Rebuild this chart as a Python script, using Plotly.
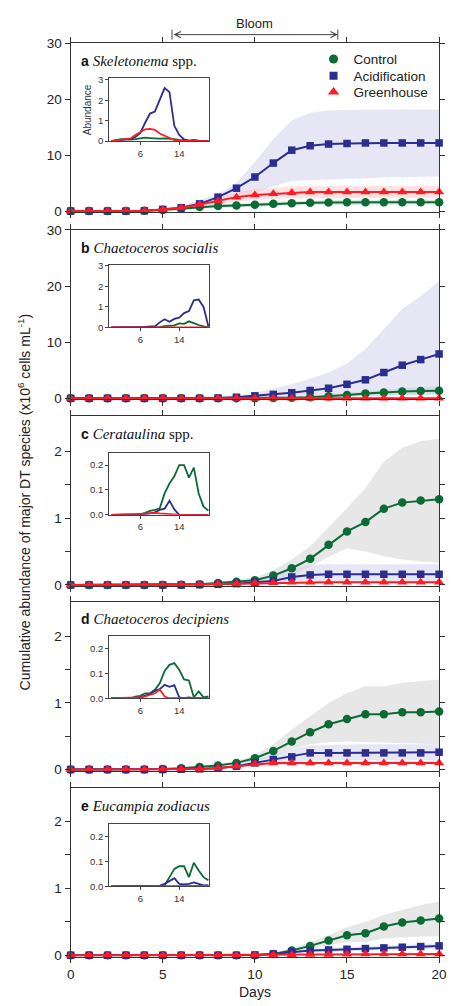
import plotly.graph_objects as go

W, H = 451, 1006
def fx(px): return px / W
def fy(px): return 1 - px / H

days = list(range(21))

# ---------- main panels: cumulative abundance ----------
# a Skeletonema
ctrl_a = [0,0,0,0,0.05,0.2,0.45,0.75,0.9,1.0,1.15,1.3,1.4,1.5,1.55,1.6,1.6,1.6,1.6,1.6,1.6]
ctrl_a_hi = [0,0,0,0,0.1,0.3,0.6,1.0,1.2,1.35,1.5,1.7,1.8,1.9,1.95,2.0,2.0,2.0,2.0,2.0,2.0]
ctrl_a_lo = [0,0,0,0,0,0.1,0.3,0.5,0.6,0.7,0.8,0.9,1.0,1.1,1.15,1.2,1.2,1.2,1.2,1.2,1.2]
acid_a = [0,0,0,0,0.05,0.3,0.6,1.3,2.5,4.1,6.1,8.6,10.9,11.7,12.0,12.1,12.2,12.2,12.2,12.2,12.2]
acid_a_hi = [0,0,0,0,0.1,0.5,1.0,2.0,3.0,5.0,8.8,12.9,16.2,17.6,18.0,18.1,18.2,18.2,18.2,18.2,18.2]
acid_a_lo = [0,0,0,0,0,0.1,0.3,0.7,1.5,2.4,3.2,4.5,5.4,5.6,5.7,5.8,5.9,6.0,6.1,6.2,6.2]
gh_a = [0,0,0,0,0.05,0.3,0.6,1.2,1.8,2.5,2.9,3.1,3.3,3.4,3.4,3.4,3.4,3.4,3.4,3.4,3.4]
gh_a_hi = [0,0,0,0,0.1,0.4,0.8,1.6,2.5,3.4,3.9,4.2,4.4,4.5,4.5,4.5,4.5,4.5,4.5,4.5,4.5]
gh_a_lo = [0,0,0,0,0,0.2,0.4,0.8,1.2,1.7,2.0,2.2,2.3,2.4,2.4,2.4,2.4,2.4,2.4,2.4,2.4]

# b Chaetoceros socialis
ctrl_b = [0,0,0,0,0,0,0,0,0,0,0.02,0.05,0.1,0.2,0.35,0.6,0.85,1.05,1.2,1.3,1.35]
ctrl_b_hi = [0,0,0,0,0,0,0,0,0,0,0.05,0.1,0.2,0.4,0.7,1.0,1.3,1.6,1.8,2.0,2.1]
ctrl_b_lo = [0,0,0,0,0,0,0,0,0,0,0,0.02,0.05,0.08,0.12,0.25,0.4,0.5,0.6,0.65,0.7]
acid_b = [0,0,0,0,0,0,0,0,0.05,0.2,0.45,0.7,1.0,1.4,1.8,2.5,3.3,4.6,5.9,6.9,7.9]
acid_b_hi = [0,0,0,0,0,0,0,0.05,0.2,0.5,1.0,1.7,2.5,3.5,4.6,6.2,8.8,12.3,15.9,18.2,20.9]
acid_b_lo = [0,0,0,0,0,0,0,0,0,0,0,0.05,0.1,0.15,0.2,0.3,0.4,0.5,0.6,0.7,0.8]
gh_b = [0,0,0,0,0,0,0,0,0,0,0.01,0.01,0.02,0.02,0.02,0.03,0.03,0.03,0.03,0.03,0.03]

# c Cerataulina
ctrl_c = [0,0,0,0,0,0,0.005,0.01,0.03,0.05,0.07,0.14,0.25,0.39,0.6,0.8,0.94,1.14,1.23,1.26,1.28]
ctrl_c_hi = [0,0,0,0,0,0,0.01,0.02,0.05,0.08,0.11,0.22,0.38,0.58,0.86,1.15,1.45,1.84,2.05,2.15,2.18]
ctrl_c_lo = [0,0,0,0,0,0,0,0,0.01,0.02,0.04,0.08,0.15,0.27,0.42,0.55,0.5,0.43,0.38,0.35,0.33]
acid_c = [0,0,0,0,0,0,0,0.005,0.01,0.02,0.04,0.06,0.12,0.15,0.16,0.16,0.16,0.16,0.16,0.16,0.16]
acid_c_hi = [0,0,0,0,0,0,0,0.01,0.02,0.04,0.08,0.12,0.24,0.3,0.31,0.31,0.31,0.31,0.31,0.31,0.31]
acid_c_lo = [0,0,0,0,0,0,0,0,0,0.01,0.02,0.02,0.03,0.03,0.03,0.03,0.03,0.03,0.03,0.03,0.03]
gh_c = [0,0,0,0,0,0,0.005,0.01,0.015,0.02,0.03,0.035,0.04,0.04,0.04,0.04,0.04,0.04,0.04,0.04,0.04]

# d Chaetoceros decipiens
ctrl_d = [0,0,0,0,0,0.01,0.02,0.04,0.06,0.1,0.17,0.28,0.42,0.56,0.68,0.76,0.83,0.83,0.86,0.86,0.87]
ctrl_d_hi = [0,0,0,0,0,0.01,0.03,0.05,0.08,0.13,0.22,0.38,0.6,0.8,1.0,1.15,1.25,1.25,1.3,1.33,1.35]
ctrl_d_lo = [0,0,0,0,0,0,0.01,0.02,0.04,0.07,0.12,0.2,0.3,0.38,0.41,0.42,0.41,0.4,0.39,0.39,0.38]
acid_d = [0,0,0,0,0,0,0.005,0.01,0.02,0.05,0.1,0.15,0.19,0.25,0.25,0.25,0.25,0.25,0.25,0.25,0.26]
acid_d_hi = [0,0,0,0,0,0,0.01,0.02,0.03,0.07,0.14,0.22,0.3,0.36,0.37,0.38,0.38,0.38,0.38,0.38,0.38]
acid_d_lo = [0,0,0,0,0,0,0,0,0.01,0.03,0.07,0.1,0.12,0.14,0.14,0.14,0.14,0.14,0.14,0.14,0.14]
gh_d = [0,0,0,0,0,0,0.003,0.01,0.025,0.05,0.085,0.1,0.1,0.1,0.1,0.1,0.1,0.1,0.1,0.1,0.1]
gh_d_hi = [0,0,0,0,0,0,0.005,0.015,0.035,0.065,0.1,0.12,0.12,0.12,0.12,0.12,0.12,0.12,0.12,0.12,0.12]
gh_d_lo = [0,0,0,0,0,0,0,0.005,0.015,0.035,0.07,0.08,0.08,0.08,0.08,0.08,0.08,0.08,0.08,0.08,0.08]

# e Eucampia zodiacus
ctrl_e = [0,0,0,0,0,0,0,0,0,0,0,0.02,0.07,0.14,0.22,0.3,0.33,0.43,0.49,0.52,0.55]
ctrl_e_hi = [0,0,0,0,0,0,0,0,0,0,0.01,0.04,0.1,0.2,0.3,0.42,0.5,0.6,0.68,0.75,0.8]
ctrl_e_lo = [0,0,0,0,0,0,0,0,0,0,0,0.01,0.04,0.08,0.15,0.2,0.2,0.25,0.27,0.28,0.28]
acid_e = [0,0,0,0,0,0,0,0,0,0,0.005,0.02,0.05,0.07,0.08,0.09,0.1,0.11,0.12,0.13,0.14]
acid_e_hi = [0,0,0,0,0,0,0,0,0,0,0.01,0.03,0.07,0.1,0.11,0.12,0.13,0.15,0.16,0.17,0.18]
acid_e_lo = [0,0,0,0,0,0,0,0,0,0,0,0.01,0.03,0.05,0.05,0.06,0.07,0.08,0.08,0.09,0.1]
gh_e = [0,0,0,0,0,0,0,0,0,0,0.003,0.005,0.008,0.01,0.012,0.015,0.017,0.018,0.02,0.02,0.02]

# ---------- insets: daily abundance ----------
ins_a_ct = [0,0.05,0.1,0.1,0.08,0.1,0.12,0.17,0.15,0.12,0.12,0.13,0.12,0.1,0.06,0.03,0.01,0,0,0,0]
ins_a_ac = [0,0.02,0.05,0.08,0.1,0.2,0.4,0.9,1.35,1.45,2.0,2.6,2.4,0.75,0.3,0.08,0.02,0.06,0.02,0,0]
ins_a_gh = [0,0.03,0.05,0.08,0.13,0.3,0.45,0.58,0.6,0.55,0.37,0.26,0.13,0.05,0.02,0.01,0,0,0,0,0]

ins_b_ct = [0,0,0,0,0,0,0,0,0,0,0.02,0.07,0.08,0.1,0.2,0.18,0.3,0.2,0.12,0.05,0]
ins_b_ac = [0,0,0,0,0,0,0.02,0.03,0.05,0.05,0.25,0.4,0.28,0.42,0.48,0.7,0.8,1.32,1.36,1.0,0.05]
ins_b_gh = [0]*21

ins_c_ct = [0,0,0,0,0,0,0.002,0.008,0.016,0.02,0.026,0.086,0.126,0.155,0.2,0.2,0.15,0.19,0.086,0.033,0.017]
ins_c_ac = [0,0,0,0,0,0,0,0.003,0.006,0.01,0.02,0.025,0.057,0.022,0,0,0,0,0,0,0]
ins_c_gh = [0,0,0,0,0,0.002,0.004,0.006,0.008,0.008,0.006,0.004,0.003,0.002,0.001,0,0,0,0,0,0]

ins_d_ct = [0,0,0,0,0,0.007,0.01,0.02,0.02,0.034,0.06,0.11,0.135,0.142,0.115,0.076,0.072,0.004,0.028,0.004,0.008]
ins_d_ac = [0,0,0,0,0,0,0.005,0.01,0.017,0.03,0.037,0.054,0.046,0.053,0.004,0,0.003,0,0,0,0]
ins_d_gh = [0,0,0,0,0,0,0.003,0.008,0.015,0.02,0.035,0.007,0,0,0,0,0,0,0,0,0]

ins_e_ct = [0,0,0,0,0,0,0,0,0,0,0.001,0.003,0.037,0.07,0.081,0.081,0.037,0.095,0.064,0.037,0.024]
ins_e_ac = [0,0,0,0,0,0,0,0,0,0,0.003,0.01,0.02,0.033,0.01,0.008,0.01,0.016,0.01,0.004,0.005]
ins_e_gh = [0,0,0,0,0,0,0,0,0,0,0.001,0.001,0.002,0.002,0.002,0.002,0.002,0.002,0.002,0.002,0.002]

series_names = ["Control", "Acidification", "Greenhouse"]
panel_letters = ["a", "b", "c", "d", "e"]
panel_species = ["<i>Skeletonema</i> spp.", "<i>Chaetoceros socialis</i>", "<i>Cerataulina</i> spp.",
                 "<i>Chaetoceros decipiens</i>", "<i>Eucampia zodiacus</i>"]

GREEN, BLUE, RED = "#0a6b34", "#2b2e8e", "#fe1c24"
BAND_G_AB = "rgba(170,205,185,0.45)"
BAND_G = "rgba(215,215,215,0.6)"
BAND_B = "rgba(205,205,235,0.5)"
BAND_R = "rgba(255,190,190,0.45)"

panels = [
    dict(ct=ctrl_a, ct_hi=ctrl_a_hi, ct_lo=ctrl_a_lo, ac=acid_a, ac_hi=acid_a_hi, ac_lo=acid_a_lo,
         gh=gh_a, gh_hi=gh_a_hi, gh_lo=gh_a_lo, ins=(ins_a_ct, ins_a_ac, ins_a_gh)),
    dict(ct=ctrl_b, ct_hi=ctrl_b_hi, ct_lo=ctrl_b_lo, ac=acid_b, ac_hi=acid_b_hi, ac_lo=acid_b_lo,
         gh=gh_b, gh_hi=None, gh_lo=None, ins=(ins_b_ct, ins_b_ac, ins_b_gh)),
    dict(ct=ctrl_c, ct_hi=ctrl_c_hi, ct_lo=ctrl_c_lo, ac=acid_c, ac_hi=acid_c_hi, ac_lo=acid_c_lo,
         gh=gh_c, gh_hi=None, gh_lo=None, ins=(ins_c_ct, ins_c_ac, ins_c_gh)),
    dict(ct=ctrl_d, ct_hi=ctrl_d_hi, ct_lo=ctrl_d_lo, ac=acid_d, ac_hi=acid_d_hi, ac_lo=acid_d_lo,
         gh=gh_d, gh_hi=gh_d_hi, gh_lo=gh_d_lo, ins=(ins_d_ct, ins_d_ac, ins_d_gh)),
    dict(ct=ctrl_e, ct_hi=ctrl_e_hi, ct_lo=ctrl_e_lo, ac=acid_e, ac_hi=acid_e_hi, ac_lo=acid_e_lo,
         gh=gh_e, gh_hi=None, gh_lo=None, ins=(ins_e_ct, ins_e_ac, ins_e_gh)),
]

# layout geometry (pixels)
main_tb = [(37, 208), (226, 398), (415, 587.5), (603, 775), (792, 963)]
main_range = [[-0.18, 30], [-0.2, 30], [-0.02, 2.52], [-0.025, 2.52], [-0.02, 2.5]]
inset_tb = [(72.3, 136), (262, 325), (452, 515), (638.3, 701), (829, 891.7)]
inset_range = [[0, 3.08], [0, 3.03], [0, 0.25], [0, 0.25], [0, 0.25]]

fig = go.Figure()
FONT = "Liberation Sans, Arial, sans-serif"
AX = "#333333"

def band(xa, ya, hi, lo, color):
    fig.add_trace(go.Scatter(x=days + days[::-1], y=hi + lo[::-1], fill="toself", fillcolor=color,
                             line=dict(width=0), mode="lines", hoverinfo="skip", showlegend=False,
                             xaxis=xa, yaxis=ya))

for i, p in enumerate(panels):
    n = i + 1
    xa, ya = f"x{n}", f"y{n}"
    band(xa, ya, p["ct_hi"], p["ct_lo"], BAND_G_AB if i < 2 else BAND_G)
    band(xa, ya, p["ac_hi"], p["ac_lo"], BAND_B)
    if p["gh_hi"] is not None:
        band(xa, ya, p["gh_hi"], p["gh_lo"], BAND_R)
    fig.add_trace(go.Scatter(x=days, y=p["ct"], mode="lines+markers", line=dict(color=GREEN, width=2),
                             marker=dict(symbol="circle", size=8.5, color=GREEN), cliponaxis=False,
                             showlegend=False, xaxis=xa, yaxis=ya))
    fig.add_trace(go.Scatter(x=days, y=p["ac"], mode="lines+markers", line=dict(color=BLUE, width=2),
                             marker=dict(symbol="square", size=7.5, color=BLUE), cliponaxis=False,
                             showlegend=False, xaxis=xa, yaxis=ya))
    fig.add_trace(go.Scatter(x=days, y=p["gh"], mode="lines+markers", line=dict(color=RED, width=2),
                             marker=dict(symbol="triangle-up", size=9, color=RED), cliponaxis=False,
                             showlegend=False, xaxis=xa, yaxis=ya))
    # inset
    m = n + 5
    for vals, col in zip(p["ins"], [GREEN, BLUE, RED]):
        fig.add_trace(go.Scatter(x=days, y=vals, mode="lines", line=dict(color=col, width=1.8),
                                 showlegend=False, xaxis=f"x{m}", yaxis=f"y{m}", cliponaxis=True))

# legend-only traces, one legend box per row so rows can be spaced like the reference
legend_rows = [53, 70, 86.5]
legend_keys = ["legend", "legend2", "legend3"]
for name, col, sym, sz, lk in zip(series_names, [GREEN, BLUE, RED], ["circle", "square", "triangle-up"],
                                  [9, 8, 10], legend_keys):
    fig.add_trace(go.Scatter(x=[None], y=[None], mode="markers", name=name, legend=lk,
                             marker=dict(symbol=sym, size=sz, color=col), xaxis="x1", yaxis="y1"))

layout = dict(width=W, height=H, margin=dict(l=0, r=0, t=0, b=0), plot_bgcolor="white",
              paper_bgcolor="white", font=dict(family=FONT, size=13, color="#222"),
              showlegend=True)
for lk, yr in zip(legend_keys, legend_rows):
    layout[lk] = dict(x=fx(318), y=fy(yr), xanchor="left", yanchor="middle", bgcolor="rgba(0,0,0,0)",
                      font=dict(size=13.5, color="#222"), itemwidth=30, borderwidth=0)

for i in range(5):
    n = i + 1
    top, bot = main_tb[i]
    layout[f"xaxis{n}"] = dict(domain=[fx(68.5), fx(447)], range=[0, 20], anchor=f"y{n}",
                               showline=True, linecolor=AX, linewidth=1.2, mirror="ticks",
                               ticks="outside", ticklen=5, tickcolor=AX, tickwidth=1.2,
                               tickvals=[0, 5, 10, 15, 20], showticklabels=(n == 5),
                               ticklabeloverflow="allow",
                               tickfont=dict(size=13.5, color="#222"),
                               showgrid=False, zeroline=False)
    if i < 2:
        yax = dict(tickvals=[0, 10, 20, 30])
    else:
        yax = dict(tickvals=[0, 1, 2],
                   minor=dict(tickvals=[0.5, 1.5], ticks="outside", ticklen=5, tickcolor=AX,
                              tickwidth=1.2, showgrid=False))
    layout[f"yaxis{n}"] = dict(domain=[fy(bot), fy(top)], range=main_range[i], anchor=f"x{n}",
                               showline=True, linecolor=AX, linewidth=1.2, mirror="ticks",
                               ticks="outside", ticklen=5, tickcolor=AX, tickwidth=1.2,
                               tickfont=dict(size=13.5, color="#222"),
                               showgrid=False, zeroline=False, **yax)
    m = n + 5
    it, ib = inset_tb[i]
    layout[f"xaxis{m}"] = dict(domain=[fx(108), fx(211)], range=[-0.4, 20.2], anchor=f"y{m}",
                               showline=True, linecolor="#444", linewidth=1, mirror=True,
                               ticks="outside", ticklen=3, tickcolor="#444", tickvals=[6, 14],
                               tickfont=dict(size=9.5, color="#333"), showgrid=False, zeroline=False)
    if i < 2:
        itv, itt = [0, 1, 2, 3], ["0", "1", "2", "3"]
    else:
        itv, itt = [0, 0.1, 0.2], ["0.0", "0.1", "0.2"]
    layout[f"yaxis{m}"] = dict(domain=[fy(ib), fy(it)], range=inset_range[i], anchor=f"x{m}",
                               showline=True, linecolor="#444", linewidth=1, mirror=True,
                               ticks="outside", ticklen=3, tickcolor="#444", tickvals=itv, ticktext=itt,
                               tickfont=dict(size=9.5, color="#333"), showgrid=False, zeroline=False)

annotations = []
shapes = []
for i in range(5):
    top = main_tb[i][0]
    annotations.append(dict(
        text=f"<b>{panel_letters[i]}</b> <span style=\"font-family:'Liberation Serif';font-size:15px\">{panel_species[i]}</span>",
        x=fx(77), y=fy(top + 18), xref="paper", yref="paper", xanchor="left", yanchor="middle",
        showarrow=False, font=dict(size=14, color="#111", family=FONT)))

annotations.append(dict(text="Abundance", x=fx(86), y=fy(104), xref="paper", yref="paper",
                        xanchor="center", yanchor="middle",
                        textangle=-90, showarrow=False, font=dict(size=10, color="#333")))
annotations.append(dict(text="Cumulative abundance of major DT species (x10<sup>6</sup> cells mL<sup>-1</sup>)",
                        x=fx(21), y=fy(502), xref="paper", yref="paper", textangle=-90,
                        xanchor="center", yanchor="middle",
                        showarrow=False, font=dict(size=14, color="#222")))
annotations.append(dict(text="Days", x=10, y=fy(999), xref="x5", yref="paper", showarrow=False,
                        xanchor="center", yanchor="middle", font=dict(size=14, color="#222")))
# Bloom period
annotations.append(dict(text="Bloom", x=10, y=fy(17), xref="x1", yref="paper", showarrow=False,
                        xanchor="center", yanchor="middle", font=dict(size=13, color="#222")))
annotations.append(dict(text="", x=14.5, y=fy(28), xref="x1", yref="paper",
                        ax=5.5, ay=0, axref="x1", ayref="pixel", showarrow=True,
                        arrowhead=5, startarrowhead=5, arrowside="end+start", arrowsize=1.2,
                        startarrowsize=1.2, arrowwidth=1, arrowcolor="#444"))
for xv in [5.5, 14.5]:
    shapes.append(dict(type="line", x0=xv, x1=xv, y0=fy(23), y1=fy(33), xref="x1", yref="paper",
                       line=dict(color="#444", width=1)))

layout["annotations"] = annotations
layout["shapes"] = shapes
fig.update_layout(**layout)
fig.write_html("out.html")
